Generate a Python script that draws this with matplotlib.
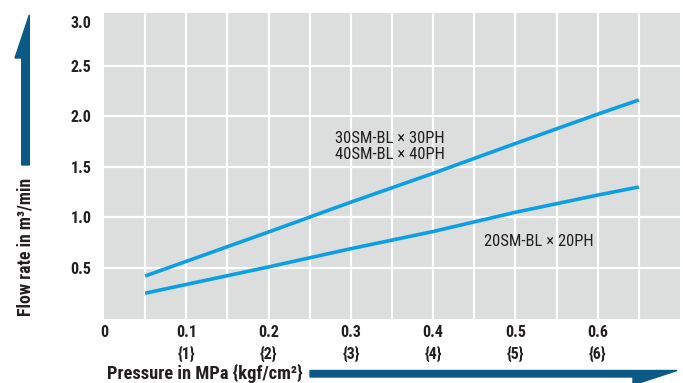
import matplotlib
matplotlib.use("Agg")
import matplotlib.pyplot as plt
from matplotlib.patches import Polygon
import matplotlib.transforms as mtransforms

plt.rcParams['font.family'] = ['Roboto Condensed', 'DejaVu Sans']

# Data
pressure_upper = [0.05, 0.2, 0.3, 0.4, 0.5, 0.6, 0.65]
flow_upper = [0.42, 0.855, 1.15, 1.435, 1.73, 2.02, 2.16]
pressure_lower = [0.05, 0.2, 0.3, 0.4, 0.5, 0.6, 0.65]
flow_lower = [0.25, 0.51, 0.69, 0.86, 1.05, 1.22, 1.30]
label_upper = "30SM-BL × 30PH\n40SM-BL × 40PH"
label_lower = "20SM-BL × 20PH"
xticks = [0, 0.1, 0.2, 0.3, 0.4, 0.5, 0.6]
xticklabels = ["0", "0.1\n{1}", "0.2\n{2}", "0.3\n{3}", "0.4\n{4}", "0.5\n{5}", "0.6\n{6}"]
yticks = [0.5, 1.0, 1.5, 2.0, 2.5, 3.0]
yticklabels = ["0.5", "1.0", "1.5", "2.0", "2.5", "3.0"]

W, H = 683, 383
fig = plt.figure(figsize=(W / 100, H / 100), dpi=100)
fig.patch.set_facecolor('white')

L, T, R, B = 104, 13, 680, 318.5
ax = fig.add_axes([L / W, 1 - B / H, (R - L) / W, (B - T) / H])
ax.set_facecolor('#dcdddd')
ax.set_xlim(0, 0.7)
ax.set_ylim(0, 3.02)
for s in ax.spines.values():
    s.set_visible(False)

for gx in [i * 0.05 for i in range(1, 14)]:
    ax.axvline(gx, color='white', lw=1.6, zorder=1)
for gy in [0.5, 1.0, 1.5, 2.0, 2.5]:
    ax.axhline(gy, color='white', lw=1.6, zorder=1)

line_color = '#0d9fe3'
ax.plot(pressure_upper, flow_upper, color=line_color, lw=2.6, zorder=3, solid_capstyle='butt')
ax.plot(pressure_lower, flow_lower, color=line_color, lw=2.6, zorder=3, solid_capstyle='butt')

txtc = '#231f20'
ax.text(0.281, 1.7, label_upper, fontsize=12, color=txtc, ha='left', va='center',
        linespacing=1.12, zorder=4)
ax.text(0.462, 0.76, label_lower, fontsize=12, color=txtc, ha='left', va='center', zorder=4)

ax.set_xticks(xticks)
ax.set_xticklabels(xticklabels, fontsize=11.5, fontweight='bold', color=txtc, linespacing=1.4, va='top')
ax.set_yticks(yticks)
ax.set_yticklabels(yticklabels, fontsize=11.5, fontweight='bold', color=txtc)
ax.tick_params(axis='both', length=0)
ax.tick_params(axis='x', pad=5)
ax.tick_params(axis='y', pad=9)
lbl = ax.get_yticklabels()[-1]
lbl.set_transform(lbl.get_transform() + mtransforms.ScaledTranslation(0, -0.07, fig.dpi_scale_trans))

arrow_c = '#0b5a86'
def px(x, y):
    return (x / W, 1 - y / H)

ypoly = [px(21.7, 165), px(21.7, 58), px(15, 58), px(29.3, 15), px(29.3, 165)]
fig.patches.append(Polygon(ypoly, closed=True, transform=fig.transFigure, color=arrow_c))
xpoly = [px(310, 370.5), px(677, 370.5), px(633, 385), px(633, 377), px(310, 377)]
fig.patches.append(Polygon(xpoly, closed=True, transform=fig.transFigure, color=arrow_c))

fig.text(25.5 / W, 1 - 246.5 / H, "Flow rate in m³/min", rotation=90, fontsize=12.8,
         fontweight='bold', color=txtc, ha='center', va='center')
fig.text(107 / W, 1 - 373 / H, "Pressure in MPa {kgf/cm²}", fontsize=13.3,
         fontweight='bold', color=txtc, ha='left', va='center')

fig.savefig('out.png', dpi=100, facecolor='white')
